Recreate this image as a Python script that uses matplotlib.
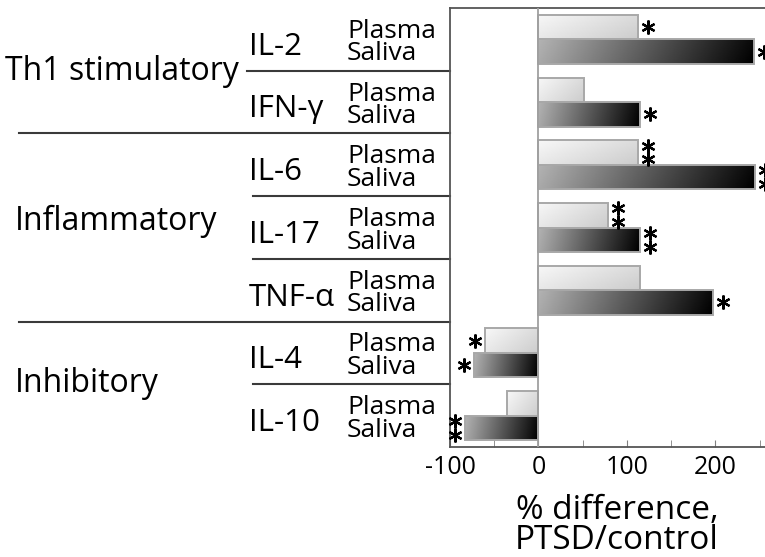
import numpy as np
import matplotlib
matplotlib.use("Agg")
import matplotlib.pyplot as plt
from matplotlib.transforms import blended_transform_factory

plt.rcParams["font.family"] = ["Open Sans", "DejaVu Sans"]
plt.rcParams["axes.unicode_minus"] = False

# data (% difference, PTSD/control)
cytokines = ["IL-2", "IFN-\u03b3", "IL-6", "IL-17", "TNF-\u03b1", "IL-4", "IL-10"]
plasma = [113, 51, 112, 79, 115, -61, -36]
saliva = [244, 115, 245, 115, 197, -73, -83]
plasma_stars = [1, 0, 2, 2, 0, 1, 0]
saliva_stars = [1, 1, 2, 2, 1, 1, 2]
groups = ["Th1 stimulatory", "Inflammatory", "Inhibitory"]
group_y = [0.648, 3.04, 5.62]
xticks = [-100, 0, 100, 200]

W, H = 765, 557
fig = plt.figure(figsize=(W / 100, H / 100), dpi=100)
ax = fig.add_axes([450 / W, (H - 447) / H, 315 / W, 439 / H])

y = np.arange(len(cytokines))
bh = 0.39


def gradient_fill(bar, c0, c1, cv):
    x0, y0 = bar.get_x(), bar.get_y()
    w, h = bar.get_width(), bar.get_height()
    U, V = np.meshgrid(np.linspace(0, 1, 80), np.linspace(0, 1, 20))
    g = np.clip(c0 + (c1 - c0) * U + cv * V, 0, 1)
    im = ax.imshow(g, cmap="gray", vmin=0, vmax=1, aspect="auto",
                   extent=[min(x0, x0 + w), max(x0, x0 + w), y0 + h, y0],
                   interpolation="bilinear", zorder=1)
    im.set_clip_path(bar)


pb = ax.barh(y - bh / 2, plasma, height=bh, facecolor="none",
             edgecolor="#a8a8a8", linewidth=1.4, zorder=2)
sb = ax.barh(y + bh / 2, saliva, height=bh, facecolor="none",
             edgecolor="#a8a8a8", linewidth=1.4, zorder=2)
for b in pb:
    gradient_fill(b, 0.97, 0.86, -0.06)
for b in sb:
    gradient_fill(b, 0.70, 0.04, -0.04)

ax.set_xlim(-100, 256)
ax.set_ylim(6.5, -0.5)

# significance asterisks
px = 356 / 315  # data units per pixel in x
for vals, stars, off in [(plasma, plasma_stars, -bh / 2), (saliva, saliva_stars, bh / 2)]:
    for i, (v, n) in enumerate(zip(vals, stars)):
        if n == 0:
            continue
        sx = v + np.sign(v) * 10 * px
        ys = [i + off] if n == 1 else [i + off - 0.11, i + off + 0.11]
        ax.plot([sx] * n, ys, linestyle="none", marker=(6, 2, 0), markersize=10,
                markeredgewidth=1.6, color="black", clip_on=False, zorder=4)

ax.axvline(0, color="#a0a0a0", linewidth=1.3, zorder=3)

for s in ["left", "top", "bottom"]:
    ax.spines[s].set_color("#555555")
    ax.spines[s].set_linewidth(1.3)
ax.spines["right"].set_visible(False)

ax.set_yticks([])
ax.set_xticks(xticks)
ax.set_xticks([-50, 50, 150, 250], minor=True)
ax.tick_params(axis="x", which="both", direction="in", length=5, color="#808080",
               labelsize=18, pad=6)

ax.set_xlabel("% difference,\nPTSD/control", fontsize=24, linespacing=0.88)
ax.xaxis.set_label_coords((617 - 450) / 315, -0.107)

# row labels on the left
tr = blended_transform_factory(fig.transFigure, ax.transData)
for i, name in enumerate(cytokines):
    ax.text(249 / W, i + 0.245, name, transform=tr, fontsize=22.5, va="baseline")
    ax.text(347 / W, i + 0.335, "Plasma\nSaliva", transform=tr, fontsize=19,
            va="baseline", linespacing=0.87)

ax.text(5 / W, group_y[0], groups[0], transform=tr, fontsize=23, va="baseline")
ax.text(15 / W, group_y[1], groups[1], transform=tr, fontsize=23, va="baseline")
ax.text(15 / W, group_y[2], groups[2], transform=tr, fontsize=23, va="baseline")

# separator lines
for yb, x0 in [(0.5, 247), (1.5, 19), (2.5, 253), (3.5, 253), (4.5, 19), (5.5, 253)]:
    ax.plot([x0 / W, 450 / W], [yb, yb], transform=tr, color="#3a3a3a",
            linewidth=1.5, clip_on=False)

fig.savefig("out.png", dpi=100)
